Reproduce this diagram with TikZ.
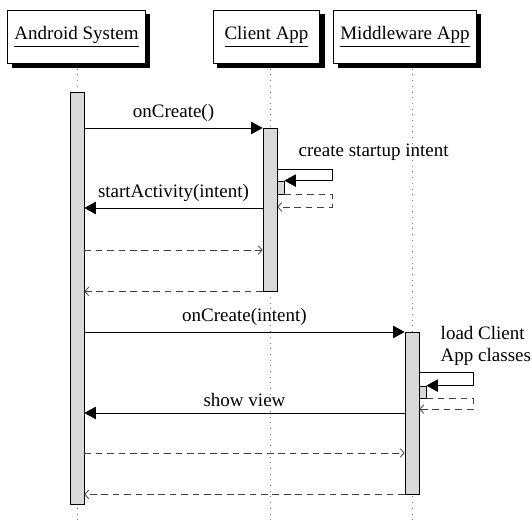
\documentclass[tikz,border=0pt]{standalone}
\usepackage{fontspec}
\setmainfont{Liberation Serif}
\usetikzlibrary{arrows.meta,fit}

\begin{document}
\begin{tikzpicture}[x=0.526pt,y=-0.526pt,
    instance/.style={draw,fill=white,minimum height=28pt,inner xsep=3.5pt},
    shadowbox/.style={fill=black},
    lifeline/.style={gray,dash pattern=on 0.5pt off 2.5pt},
    thread/.style={draw,fill=gray!30,inner sep=0pt},
    call/.style={-{Triangle[length=6pt,width=6.5pt]}},
    reply/.style={black!75,dash pattern=on 3.5pt off 2.5pt,-{Straight Barb[length=2pt,width=4.5pt]}}]

  \useasboundingbox (0,0) rectangle (532,529);

  % instances (shadows first)
  \fill[shadowbox] (12,14) rectangle (149.5,68);
  \fill[shadowbox] (217,14) rectangle (324.5,68);
  \fill[shadowbox] (338,14) rectangle (480.5,68);
  \node[instance] (sys) at (76.5,37) {\underline{Android System}};
  \node[instance,minimum width=56pt] (client) at (266.5,37) {\underline{Client App}};
  \node[instance] (mw) at (405,37) {\underline{Middleware App}};

  % lifelines
  \coordinate (sysEnd) at (77,525);
  \coordinate (clientEnd) at (270,525);
  \coordinate (mwEnd) at (412,525);
  \draw[lifeline] ([yshift=-2.5pt]sys.south -| sysEnd) -- (sysEnd);
  \draw[lifeline] ([yshift=-2.5pt]client.south -| clientEnd) -- (clientEnd);
  \draw[lifeline] ([yshift=-2.5pt]mw.south -| mwEnd) -- (mwEnd);

  % threads
  \node[thread,fit={(70,92) (84,504)}] (sysT) {};
  \node[thread,fit={(263,128) (277,291)}] (clientT) {};
  \node[thread,fit={(277,181) (284,194)}] (clientS) {};
  \node[thread,fit={(405,332) (419,494)}] (mwT) {};
  \node[thread,fit={(419,386) (426,398)}] (mwS) {};

  % client app
  \coordinate (m1) at (0,128);
  \draw[call] (sysT.east |- m1) -- node[above] {onCreate()} (clientT.west |- m1);
  \coordinate (s1) at (332,169);
  \draw[call] (clientT.east |- s1) -- (s1) |- (clientS.north east);
  \node[anchor=west] (startupLbl) at (292,152) {create startup intent};
  \coordinate (s2) at (332,207);
  \draw[reply] (clientS.south east) -| (s2) -- (clientT.east |- s2);
  \coordinate (m2) at (0,208);
  \draw[call] (clientT.west |- m2) -- node[above] {startActivity(intent)} (sysT.east |- m2);
  \coordinate (m3) at (0,250);
  \draw[reply] (sysT.east |- m3) -- (clientT.west |- m3);
  \draw[reply] (clientT.south west) -- (sysT.east |- clientT.south west);

  % middleware app
  \coordinate (m4) at (0,332);
  \draw[call] (sysT.east |- m4) -- node[above] {onCreate(intent)} (mwT.west |- m4);
  \coordinate (s3) at (473,372);
  \draw[call] (mwT.east |- s3) -- (s3) |- (mwS.north east);
  \node[anchor=west,align=left] (loadLbl) at (434,346) {load Client\\App classes};
  \coordinate (s4) at (473,409);
  \draw[reply] (mwS.south east) -| (s4) -- (mwT.east |- s4);
  \coordinate (m5) at (0,413);
  \draw[call] (mwT.west |- m5) -- node[above] {show view} (sysT.east |- m5);
  \coordinate (m6) at (0,453);
  \draw[reply] (sysT.east |- m6) -- (mwT.west |- m6);
  \draw[reply] (mwT.south west) -- (sysT.east |- mwT.south west);
\end{tikzpicture}
\end{document}
